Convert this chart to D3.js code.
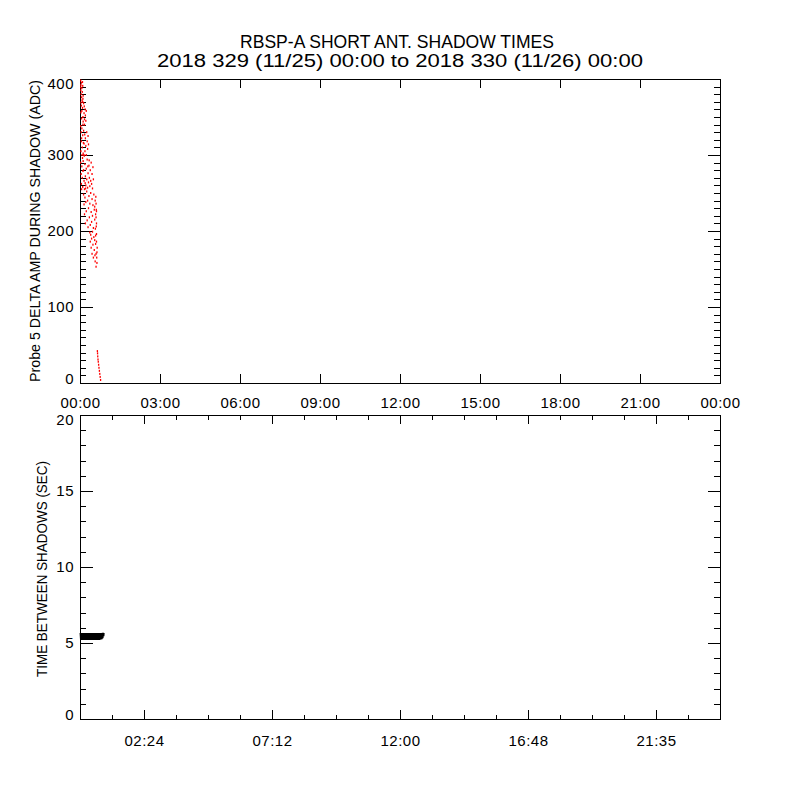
<!DOCTYPE html>
<html>
<head>
<meta charset="utf-8">
<script src="https://cdn.jsdelivr.net/npm/d3@7"></script>
<style>
  body { margin: 0; background: #fff; }
  svg { display: block; font-family: "Liberation Sans", Arial, sans-serif; }
  .tick text { font-size: 15px; fill: #000; letter-spacing: 0.5px; }
  .axis path, .axis line { stroke: #000; shape-rendering: crispEdges; }
</style>
</head>
<body>
<svg id="chart" width="800" height="800"></svg>
<script>
/* --- Data --- */
const titleLines = [
    "RBSP-A SHORT ANT. SHADOW TIMES",
    "2018 329 (11/25) 00:00 to 2018 330 (11/26) 00:00"
];
const ampLabel = "Probe 5 DELTA AMP DURING SHADOW (ADC)";
const gapLabel = "TIME BETWEEN SHADOWS (SEC)";

// probe 5 delta amp: [minutes after 00:00, ADC]
const ampPoints = [
    [1.5, 398], [2, 392], [1.8, 385], [3, 395], [2.5, 380], [4, 388], [3.5, 376], [5, 383],
    [6, 391], [4.5, 372], [7, 378], [2.2, 369], [1.6, 389], [5.5, 396], [6.5, 374],
    [3, 365], [4, 358], [5.5, 362], [6.5, 350], [8, 368], [9, 355], [10, 347], [11.5, 360],
    [7, 344], [12, 352], [14, 358], [3.5, 348], [13, 345], [6, 370], [2, 356], [9.5, 364],
    [1.5, 338], [2.5, 330], [3, 318], [4, 335], [5, 310], [6, 326], [7, 302], [8, 332],
    [9, 315], [10, 340], [11, 305], [12, 322], [13, 312], [14, 300], [15, 330], [16, 318],
    [17, 308], [18, 325], [19, 314], [2, 305], [4.5, 300], [8.5, 300], [6.5, 340], [3.5, 322],
    [10.5, 327], [7.5, 316],
    [1.5, 290], [2.5, 275], [3, 262], [4, 285], [5, 270], [6, 258], [7, 292], [8, 280],
    [9, 266], [10, 255], [11, 288], [12, 272], [13, 260], [14, 282], [15, 268], [16, 294],
    [17, 257], [18, 276], [19, 264], [20, 286], [21, 270], [22, 259], [23, 280], [24, 266],
    [25, 290], [26, 262], [27, 275], [28, 256], [29, 284], [30, 268], [3.5, 255], [5.5, 296],
    [9.5, 299], [12.5, 256], [6.5, 279], [11.5, 263], [17.5, 285], [20.5, 293],
    [8, 248], [9, 235], [10, 222], [11, 244], [12, 210], [13, 238], [14, 226], [15, 252],
    [16, 214], [17, 240], [18, 205], [19, 230], [20, 246], [21, 218], [22, 236], [23, 208],
    [24, 250], [25, 225], [26, 212], [27, 242], [28, 220], [29, 234], [30, 204], [31, 248],
    [32, 228], [33, 215], [34, 240], [35, 222], [36, 236], [37, 210], [35.5, 245], [36.5, 228],
    [34.5, 203], [36, 218], [37, 226], [33, 232], [36.5, 206],
    [22, 198], [23, 186], [24, 195], [25, 178], [26, 190], [27, 170], [28, 199], [29, 182],
    [30, 165], [31, 192], [32, 175], [33, 188], [34, 160], [35, 183], [36, 170], [37, 196],
    [38, 158], [36, 153], [38.5, 178], [37.5, 165], [33.5, 168], [35, 194], [37, 186], [38, 172],
    [39, 42], [39.4, 39], [39.8, 35], [40.4, 31], [41, 28], [41.8, 24], [42.6, 20],
    [43.5, 16], [44.4, 12], [45.3, 8], [46.2, 4]
];

// time between shadows
const gapMinutes = [
    1.5, 2.5, 3.5, 4.5, 5.5, 6.5, 7.5, 8.5, 9.5, 10.5, 11.5, 12.5, 13.5, 14.5, 15.5, 16.5,
    17.5, 18.5, 19.5, 20.5, 21.5, 22.5, 23.5, 24.5, 25.5, 26.5, 27.5, 28.5, 29.5, 30.5, 31.5,
    32.5, 33.5, 34.5, 35.5, 36.5, 37.5, 38.5, 39.5, 40.5, 41.5, 42.5, 43.5, 44.5, 45.5, 46.5,
    47.5, 48.5, 49.5, 50.5, 51.5, 52.5, 53
];
const gapSeconds = [
    5.66, 5.21, 5.65, 5.20, 5.66, 5.22, 5.65, 5.21, 5.66, 5.20, 5.65, 5.21, 5.66, 5.22, 5.65, 5.20,
    5.66, 5.21, 5.65, 5.20, 5.66, 5.22, 5.65, 5.21, 5.66, 5.20, 5.65, 5.21, 5.66, 5.22, 5.65,
    5.21, 5.66, 5.20, 5.65, 5.21, 5.66, 5.22, 5.65, 5.20, 5.66, 5.21, 5.65, 5.22, 5.66, 5.23,
    5.65, 5.25, 5.66, 5.32, 5.66, 5.45, 5.66
];

// axis ticks
const topHourTicks = [0, 3, 6, 9, 12, 15, 18, 21, 24];
const topHourLabels = ["00:00", "03:00", "06:00", "09:00", "12:00", "15:00", "18:00", "21:00", "00:00"];
const bottomHourTicks = [2.4, 7.2, 12, 16.8, 21.6];
const bottomHourLabels = ["02:24", "07:12", "12:00", "16:48", "21:35"];
const ampTicks = [0, 100, 200, 300, 400];
const gapTicks = [0, 5, 10, 15, 20];

/* --- Layout --- */
const CONFIG = {
    left: 80, right: 720,
    top1: 79, bottom1: 383,
    top2: 415, bottom2: 719,
    majorY: 12.5, minorY: 6,
    majorX: 9, minorX: 4.5
};

const svg = d3.select("#chart");

const x = d3.scaleLinear().domain([0, 24]).range([CONFIG.left, CONFIG.right]);
const yAmp = d3.scaleLinear().domain([0, 400]).range([CONFIG.bottom1, CONFIG.top1]);
const yGap = d3.scaleLinear().domain([0, 20]).range([CONFIG.bottom2, CONFIG.top2]);

// title
svg.selectAll("text.title")
    .data(titleLines)
    .enter().append("text")
    .attr("class", "title")
    .attr("x", (d, i) => i === 0 ? 397 : 400)
    .attr("y", (d, i) => i === 0 ? 48 : 67)
    .attr("text-anchor", "middle")
    .attr("textLength", (d, i) => i === 0 ? 314 : 486)
    .attr("lengthAdjust", "spacingAndGlyphs")
    .style("font-size", "18px")
    .text(d => d);

// draws the four sides of a panel, ticks pointing inward
function drawFrame(y, top, bottom, xMajor, xLabels, xMinor, yMajor, yMinor, xPad) {
    const g = svg.append("g").attr("class", "axis");

    const bottomAxis = g.append("g")
        .attr("transform", `translate(0, ${bottom})`)
        .call(d3.axisBottom(x).tickValues(xMajor).tickFormat((d, i) => xLabels[i])
            .tickSize(-CONFIG.majorX).tickSizeOuter(0).tickPadding(xPad));
    bottomAxis.selectAll("text").attr("dy", "0.71em");

    g.append("g")
        .attr("transform", `translate(0, ${top})`)
        .call(d3.axisTop(x).tickValues(xMajor).tickFormat("")
            .tickSize(-CONFIG.majorX).tickSizeOuter(0));

    if (xMinor) {
        g.append("g")
            .attr("transform", `translate(0, ${bottom})`)
            .call(d3.axisBottom(x).tickValues(xMinor).tickFormat("")
                .tickSize(-CONFIG.minorX).tickSizeOuter(0));
        g.append("g")
            .attr("transform", `translate(0, ${top})`)
            .call(d3.axisTop(x).tickValues(xMinor).tickFormat("")
                .tickSize(-CONFIG.minorX).tickSizeOuter(0));
    }

    const leftAxis = g.append("g")
        .attr("transform", `translate(${CONFIG.left}, 0)`)
        .call(d3.axisLeft(y).tickValues(yMajor)
            .tickSize(-CONFIG.majorY).tickSizeOuter(0).tickPadding(6));
    // end labels sit a little inside the frame
    leftAxis.selectAll(".tick text")
        .attr("dy", (d, i) => i === 0 ? "0.02em" : (i === yMajor.length - 1 ? "0.62em" : "0.32em"));

    g.append("g")
        .attr("transform", `translate(${CONFIG.left}, 0)`)
        .call(d3.axisLeft(y).tickValues(yMinor).tickFormat("")
            .tickSize(-CONFIG.minorY).tickSizeOuter(0));

    g.append("g")
        .attr("transform", `translate(${CONFIG.right}, 0)`)
        .call(d3.axisRight(y).tickValues(yMajor).tickFormat("")
            .tickSize(-CONFIG.majorY).tickSizeOuter(0));
    g.append("g")
        .attr("transform", `translate(${CONFIG.right}, 0)`)
        .call(d3.axisRight(y).tickValues(yMinor).tickFormat("")
            .tickSize(-CONFIG.minorY).tickSizeOuter(0));
}

drawFrame(yAmp, CONFIG.top1, CONFIG.bottom1, topHourTicks, topHourLabels, null,
    ampTicks, yAmp.ticks(40), 14);
drawFrame(yGap, CONFIG.top2, CONFIG.bottom2, bottomHourTicks, bottomHourLabels,
    d3.range(0, 24.01, 1.2), gapTicks, yGap.ticks(20), 16);

// y axis titles
function yTitle(text, cx, cy, len) {
    svg.append("text")
        .attr("transform", `translate(${cx}, ${cy}) rotate(-90)`)
        .attr("text-anchor", "middle")
        .attr("dy", "0.35em")
        .attr("textLength", len)
        .attr("lengthAdjust", "spacingAndGlyphs")
        .style("font-size", "15px")
        .text(text);
}
yTitle(ampLabel, 35, 231, 302);
yTitle(gapLabel, 42, 569, 216);

// panel 1: red points
svg.append("g")
    .selectAll("rect")
    .data(ampPoints)
    .enter().append("rect")
    .attr("x", d => x(d[0] / 60) - 0.6)
    .attr("y", d => yAmp(d[1]) - 1)
    .attr("width", 1.3)
    .attr("height", 2)
    .attr("fill", "#ff0000");

// panel 2: black trace
const gapData = gapMinutes.map((m, i) => ({ hour: m / 60, sec: gapSeconds[i] }));
svg.append("path")
    .datum(gapData)
    .attr("fill", "none")
    .attr("stroke", "#000")
    .attr("stroke-width", 2.2)
    .attr("stroke-linejoin", "bevel")
    .attr("d", d3.line().x(d => x(d.hour)).y(d => yGap(d.sec)));
</script>
</body>
</html>
